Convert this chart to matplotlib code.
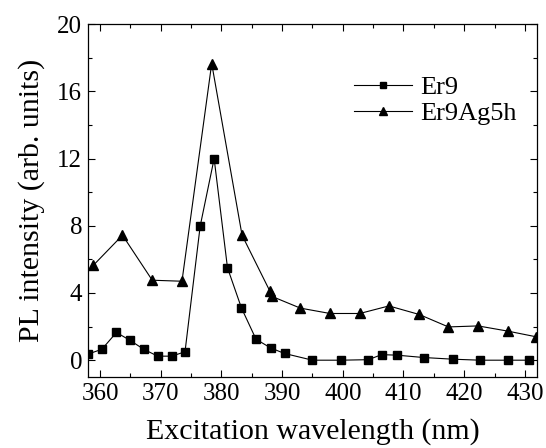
import matplotlib
matplotlib.use("Agg")
import matplotlib.pyplot as plt
from matplotlib.ticker import MultipleLocator

# Er9 (squares)
wl_er9 = [358.0, 360.3, 362.7, 364.9, 367.2, 369.5, 371.8, 374.0, 376.5, 378.8,
          381.0, 383.3, 385.7, 388.1, 390.4, 395.0, 399.7, 404.2, 406.4, 408.9,
          413.3, 418.1, 422.6, 427.3, 430.7]
pl_er9 = [0.36, 0.65, 1.65, 1.19, 0.65, 0.24, 0.24, 0.5, 7.98, 12.0,
          5.5, 3.11, 1.25, 0.73, 0.4, 0.0, 0.0, 0.03, 0.33, 0.3,
          0.16, 0.06, 0.0, 0.0, 0.0]

# Er9Ag5h (triangles)
wl_ag = [358.9, 363.7, 368.6, 373.5, 378.4, 383.4, 388.0, 388.3, 393.0, 397.9,
         402.8, 407.6, 412.6, 417.4, 422.3, 427.2, 431.9]
pl_ag = [5.65, 7.44, 4.76, 4.7, 17.66, 7.44, 4.1, 3.8, 3.1, 2.78,
         2.78, 3.23, 2.72, 1.98, 2.04, 1.73, 1.39]

plt.rcParams['font.family'] = 'Liberation Serif'

fig = plt.figure(figsize=(5.46, 4.48), dpi=100)
ax = fig.add_axes([0.161, 0.1585, 0.8225, 0.7875])

ax.plot(wl_er9, pl_er9, '-s', color='black', lw=0.8, ms=5.5, label='Er9')
ax.plot(wl_ag, pl_ag, '-^', color='black', lw=0.8, ms=7, label='Er9Ag5h')

ax.set_xlim(358, 432)
ax.set_ylim(-1, 20)
ax.xaxis.set_major_locator(MultipleLocator(10))
ax.xaxis.set_minor_locator(MultipleLocator(5))
ax.yaxis.set_major_locator(MultipleLocator(4))
ax.yaxis.set_minor_locator(MultipleLocator(2))
ax.tick_params(which='both', direction='in', top=True, right=True, labelsize=18, width=0.8)
ax.tick_params(which='major', length=5, pad=4)
ax.tick_params(which='minor', length=3)
for s in ax.spines.values():
    s.set_linewidth(0.9)

ax.set_xlabel('Excitation wavelength (nm)', fontsize=21.5, labelpad=10)
ax.set_ylabel('PL intensity (arb. units)', fontsize=21.5, labelpad=9)

ax.legend(loc='upper left', bbox_to_anchor=(0.57, 0.885), frameon=False,
          fontsize=19, handlelength=2.2, handletextpad=0.3, labelspacing=0.1,
          borderaxespad=0, markerscale=0.8)

fig.savefig('out.png', dpi=100)
